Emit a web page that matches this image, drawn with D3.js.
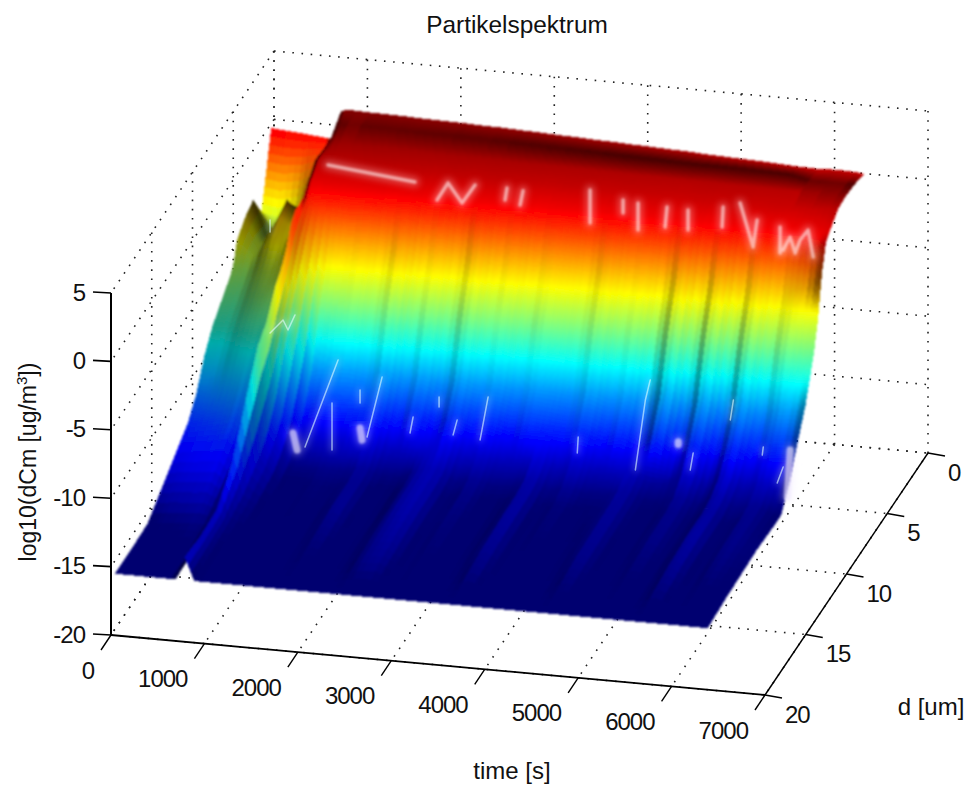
<!DOCTYPE html>
<html>
<head>
<meta charset="utf-8">
<script src="https://cdn.jsdelivr.net/npm/d3@7"></script>
<style>
body { margin: 0; background: #fff; overflow: hidden; }
text { font-family: "Liberation Sans", Arial, sans-serif; fill: #111; }
</style>
</head>
<body>
<svg id="chart" width="967" height="785"></svg>
<script>
const timeTicks = [0, 1000, 2000, 3000, 4000, 5000, 6000, 7000];
const dTicks = [0, 5, 10, 15, 20];
const zTicks = [-20, -15, -10, -5, 0, 5];

const timeValues = [40, 200, 400, 550, 690, 790, 890, 1100, 1300, 1500, 1700, 1900, 2100, 2300, 2500, 2700, 2900, 3100, 3300,
    3500, 3700, 3900, 4100, 4300, 4500, 4700, 4900, 5100, 5300, 5500, 5700, 5900, 6100, 6300, 6388];
const dValues = [0.8, 2, 3, 4, 5, 5.5, 6, 6.5, 7, 7.5, 8, 9, 10, 11, 12, 14, 16, 18, 20];

// log10(dCm), one row per entry of timeValues, one column per entry of dValues
const zValues = [
    [0.1, -5.0, -3.2, -3.6, -4.4, -5.9, -6.4, -6.8, -7.2, -7.6, -8.0, -9.3, -11.2, -12.4, -13.0, -14.2, -15.4, -15.5, -15.5],
    [0.0, -5.2, -6.0, -5.5, -5.6, -6.2, -6.6, -7.0, -7.4, -7.8, -8.2, -9.5, -11.0, -12.2, -12.8, -14.0, -15.2, -15.5, -15.5],
    [-0.1, -4.8, -2.9, -3.4, -4.2, -5.0, -5.6, -6.1, -6.6, -7.1, -7.6, -8.9, -10.6, -11.9, -12.6, -13.9, -15.1, -15.4, -15.5],
    [-0.2, -3.6, -4.0, -4.0, -4.3, -4.8, -5.2, -5.7, -6.2, -6.8, -7.4, -8.7, -10.3, -11.6, -12.4, -13.8, -15.0, -15.3, -15.5],
    [-0.3, -3.0, -3.3, -3.2, -3.4, -4.0, -4.6, -5.2, -6.0, -6.8, -7.6, -10.0, -12.0, -13.2, -13.8, -14.5, -15.1, -15.4, -15.5],
    [1.84, 1.0, 1.0, 1.1, 0.3, -0.3, -0.4, -0.5, -1.0, -2.2, -3.0, -4.0, -5.5, -6.3, -8.0, -11.8, -13.8, -14.0, -13.8],
    [1.95, 1.95, 1.5, 1.1, 0.2, -1.0, -2.0, -3.0, -4.0, -5.0, -6.0, -8.5, -11.0, -12.5, -13.5, -14.5, -15.0, -15.2, -15.5],
    [1.9, 2.0, 1.5, 1.0, 0.3, -1.0, -3.2, -5.0, -6.6, -8.6, -10.6, -12.8, -14.3, -15.0, -15.3, -15.4, -15.4, -15.5, -15.5],
    [1.88, 1.98, 1.5, 1.0, 0.25, -1.1, -3.4, -4.9, -6.4, -8.3, -10.4, -12.4, -14.0, -15.0, -15.3, -15.4, -15.4, -15.5, -15.5],
    [1.85, 1.95, 1.45, 1.0, 0.3, -1.0, -3.2, -4.7, -6.2, -8.2, -10.2, -12.5, -13.9, -14.8, -15.1, -15.2, -15.4, -15.5, -15.5],
    [1.8, 1.92, 1.45, 0.95, 0.2, -1.2, -3.5, -5.0, -6.5, -8.5, -10.5, -12.3, -13.6, -14.9, -15.2, -15.3, -15.4, -15.5, -15.5],
    [1.78, 1.9, 1.4, 0.95, 0.25, -1.0, -3.0, -4.5, -6.0, -8.0, -10.0, -12.0, -13.5, -14.5, -14.6, -14.6, -14.9, -15.2, -15.5],
    [1.75, 1.88, 1.4, 0.9, 0.15, -1.3, -3.6, -5.1, -6.7, -8.7, -10.7, -12.8, -14.2, -15.0, -15.3, -15.3, -15.4, -15.5, -15.5],
    [1.7, 1.85, 1.4, 0.95, 0.2, -1.1, -3.3, -4.8, -6.3, -8.2, -10.2, -12.2, -14.0, -15.0, -15.3, -15.4, -15.4, -15.5, -15.5],
    [1.68, 1.82, 1.35, 0.9, 0.1, -1.4, -3.7, -5.2, -6.8, -8.8, -10.8, -12.9, -13.8, -14.3, -14.4, -14.5, -14.7, -14.9, -15.5],
    [1.62, 1.8, 1.35, 0.95, 0.2, -1.0, -3.1, -4.6, -6.1, -8.1, -10.1, -12.1, -13.4, -14.1, -14.2, -14.3, -14.5, -14.8, -15.5],
    [1.58, 1.76, 1.3, 0.9, 0.1, -1.3, -3.6, -5.1, -6.6, -8.6, -10.6, -12.7, -14.1, -15.0, -15.3, -15.3, -15.4, -15.5, -15.5],
    [1.52, 1.72, 1.3, 0.9, 0.15, -1.1, -3.3, -4.8, -6.4, -8.3, -10.3, -12.4, -13.9, -14.6, -14.8, -15.0, -15.1, -15.3, -15.5],
    [1.48, 1.68, 1.28, 0.85, 0.05, -1.4, -3.7, -5.2, -6.8, -8.7, -10.7, -12.8, -14.2, -15.0, -15.3, -15.4, -15.4, -15.5, -15.5],
    [1.42, 1.64, 1.25, 0.9, 0.15, -1.2, -3.4, -4.9, -6.4, -8.4, -10.4, -12.4, -14.0, -14.9, -15.2, -15.3, -15.3, -15.5, -15.5],
    [1.38, 1.6, 1.25, 0.85, 0.1, -1.3, -3.5, -5.0, -6.5, -8.5, -10.5, -12.6, -13.6, -14.2, -14.3, -14.4, -14.6, -14.9, -15.5],
    [1.32, 1.56, 1.22, 0.8, 0.05, -1.4, -3.7, -5.2, -6.7, -8.7, -10.7, -12.7, -14.2, -15.0, -15.3, -15.4, -15.4, -15.5, -15.5],
    [1.28, 1.52, 1.2, 0.85, 0.15, -1.1, -3.2, -4.7, -6.2, -8.2, -10.2, -12.3, -13.8, -14.6, -15.0, -15.1, -15.3, -15.5, -15.5],
    [1.22, 1.5, 1.18, 0.8, 0.05, -1.3, -3.6, -5.1, -6.7, -8.7, -10.7, -12.8, -14.2, -15.0, -15.3, -15.4, -15.4, -15.5, -15.5],
    [1.18, 1.45, 1.15, 0.8, 0.1, -1.2, -3.4, -4.9, -6.4, -8.4, -10.4, -12.4, -14.1, -14.9, -15.1, -15.2, -15.3, -15.5, -15.5],
    [1.1, 1.42, 1.12, 0.75, 0.0, -1.4, -3.8, -5.4, -7.0, -9.0, -11.0, -13.0, -14.0, -14.4, -14.5, -14.6, -14.7, -15.0, -15.5],
    [1.05, 1.42, 1.15, 0.8, 0.15, -1.0, -3.0, -4.4, -5.9, -7.8, -9.7, -11.8, -14.6, -15.1, -15.2, -15.3, -15.4, -15.4, -15.5],
    [1.0, 1.4, 1.1, 0.75, -0.05, -1.5, -3.9, -5.5, -7.1, -9.1, -11.1, -13.1, -14.5, -15.1, -15.3, -15.3, -15.4, -15.5, -15.5],
    [0.95, 1.38, 1.1, 0.8, 0.1, -1.1, -3.1, -4.5, -6.0, -7.9, -9.9, -12.0, -13.6, -14.5, -14.7, -14.8, -15.0, -15.3, -15.5],
    [0.88, 1.35, 1.08, 0.7, -0.1, -1.6, -4.0, -5.6, -7.2, -9.2, -11.2, -13.2, -14.6, -15.1, -15.3, -15.3, -15.4, -15.5, -15.5],
    [0.82, 1.32, 1.05, 0.75, 0.05, -1.2, -3.3, -4.7, -6.2, -8.1, -10.1, -12.1, -13.5, -14.1, -14.3, -14.3, -14.5, -14.9, -15.5],
    [0.78, 1.0, 1.05, 0.7, -0.05, -1.5, -3.9, -5.4, -7.0, -9.0, -11.0, -13.0, -14.4, -15.0, -15.3, -15.3, -15.4, -15.5, -15.5],
    [0.85, 1.0, 1.05, 0.8, 0.05, -1.2, -3.4, -4.9, -6.4, -8.4, -10.4, -12.5, -14.0, -14.6, -14.7, -14.8, -15.0, -15.3, -15.5],
    [0.8, 1.0, 1.1, 0.9, 0.2, -0.6, -2.9, -4.9, -6.7, -8.5, -10.3, -12.3, -14.2, -15.2, -15.2, -15.1, -15.2, -15.3, -15.5],
    [0.72, 1.0, 1.1, 1.0, 0.3, -0.1, -2.0, -5.0, -7.0, -8.4, -9.8, -11.7, -13.7, -15.2, -15.2, -15.1, -15.2, -15.3, -15.5]
];

// the part before the first rise lies in shadow below the strip at the back, fading out on the floor
const shadowBefore = 790, shadowFromD = 2.5;
const shadowLevel = d3.scaleLinear().domain([-13.5, -8]).range([1, 0.62]).clamp(true);

// specular glints, as [time, z] runs at a fixed d
const glintsHighD = 4.3;
const glintsHigh = [
    [[953, 1.07], [1884, 0.41]],
    [[2120, -0.76], [2238, 0.56], [2388, -0.81], [2527, 0.59]],
    [[2848, -0.31], [2869, 0.58]],
    [[3009, -0.57], [3041, 0.5]],
    [[3758, 1.0], [3758, -1.42]],
    [[4111, 0.49], [4111, -0.46]],
    [[4272, 0.37], [4272, -1.61]],
    [[4582, 0.27], [4561, -1.21]],
    [[4807, 0.19], [4807, -1.27]],
    [[5182, 0.64], [5171, -0.83]],
    [[5364, 1.05], [5503, -2.08], [5546, -0.07]],
    [[5792, -0.43], [5792, -2.33]],
    [[5824, -2.1], [5899, -1.1], [5953, -2.24], [6006, -1.25], [6092, -0.47], [6146, -2.4]]
];
const glintsLowD = 9;
const glintsLow = [
    [[1117, -15.29], [1471, -8.71]],
    [[1406, -15.32], [1406, -11.89]],
    [[1781, -14.14], [1942, -9.66]],
    [[1706, -11.7], [1706, -10.75]],
    [[2241, -13.56], [2274, -12.37]],
    [[2552, -11.46], [2552, -10.73]],
    [[2702, -13.41], [2745, -12.3]],
    [[2991, -13.6], [3077, -10.4]],
    [[4031, -13.9], [4041, -12.73]],
    [[4653, -14.75], [4760, -9.57], [4812, -8.07]],
    [[5240, -14.39], [5272, -13.12]],
    [[5669, -10.46], [5702, -8.98]],
    [[6011, -12.81], [6022, -12.21]],
    [[6171, -14.75], [6235, -13.54]],
    [[743, -7.19], [882, -6.15], [935, -6.85], [1010, -5.7]],
    [[743, 0.2], [743, 1.07]]
];
const glintBlobs = [
    [[989, -14.34], [1032, -15.56]],
    [[1706, -13.53], [1727, -14.4]],
    [[5112, -12.4], [5112, -12.6]],
    [[6310, -12.25], [6278, -15.71]]
];

// axis box as seen on screen, time and d run along the floor
const tx = d3.scaleLinear().domain([0, 7000]).range([0, 654]);
const ty = d3.scaleLinear().domain([0, 7000]).range([0, 60]);
const dx = d3.scaleLinear().domain([20, 0]).range([0, 163]);
const dy = d3.scaleLinear().domain([20, 0]).range([0, -242]);
const zy = d3.scaleLinear().domain([-20, 5]).range([0, -342]);
const x0 = 111, y0 = 635;

const px = (t, d) => x0 + tx(t) + dx(d);
const py = (t, d, z) => y0 + ty(t) + dy(d) + zy(z);

// jet
const cMin = -15.2, cMax = 2;
const jetStops = [0, 0.125, 0.375, 0.625, 0.875, 1];
const jet = d3.scaleLinear()
    .domain(jetStops.map(v => cMin + v * (cMax - cMin)))
    .range(["#000070", "#0000ff", "#00ffff", "#ffff00", "#ff0000", "#7f0000"])
    .clamp(true);

const svg = d3.select("#chart");

const defs = svg.append("defs");
defs.append("filter").attr("id", "soft").append("feGaussianBlur").attr("stdDeviation", 3);
defs.append("filter").attr("id", "thin").append("feGaussianBlur").attr("stdDeviation", 1.2);
defs.append("filter").attr("id", "fine").append("feGaussianBlur").attr("stdDeviation", 0.5);
defs.append("filter").attr("id", "surf").append("feGaussianBlur").attr("stdDeviation", 0.8);

// dotted grid on the three walls
const grid = svg.append("g")
    .attr("fill", "none").attr("stroke", "#222").attr("stroke-width", 1.6)
    .attr("stroke-dasharray", "1.6 7.6");
const gridLine = (a, b) => grid.append("line")
    .attr("x1", px(a[0], a[1])).attr("y1", py(a[0], a[1], a[2]))
    .attr("x2", px(b[0], b[1])).attr("y2", py(b[0], b[1], b[2]));

timeTicks.forEach(t => {
    gridLine([t, 0, -20], [t, 0, 5]);
    gridLine([t, 0, -20], [t, 20, -20]);
});
dTicks.forEach(d => {
    gridLine([0, d, -20], [0, d, 5]);
    gridLine([0, d, -20], [7000, d, -20]);
});
zTicks.forEach(z => {
    gridLine([0, 0, z], [7000, 0, z]);
    gridLine([0, 0, z], [0, 20, z]);
});

// surface: far cells first, each data cell split up so the colour runs smoothly
const cellsT = 3;
const tLast = timeValues.length - 2;
const zCell = (i, j, u, v) => d3.interpolate(
    d3.interpolate(zValues[i][j], zValues[i + 1][j])(u),
    d3.interpolate(zValues[i][j + 1], zValues[i + 1][j + 1])(u))(v);
const slopeT = (i, j, v) => (zCell(i, j, 1, v) - zCell(i, j, 0, v)) / (timeValues[i + 1] - timeValues[i]) * 200;
const darkT = s => s > 0 ? 0.7 * s * s / (s * s + 1.5) : -0.03 * s;
// only the plateau at the top picks up the dark band behind its crest
const slopeD = (i, j) => {
    if (j === 0 || j > 4) return 0;
    const a = (zValues[i][j] - zValues[i][j - 1]) / (dValues[j] - dValues[j - 1]);
    const b = (zValues[i + 1][j] - zValues[i + 1][j - 1]) / (dValues[j] - dValues[j - 1]);
    return Math.min(0.2, Math.max(0, (a + b) / 2));
};

const cells = [];
for (let j = 0; j < dValues.length - 1; j++) {
    const dA = dValues[j], dB = dValues[j + 1];
    const cellsD = j < 13 ? 10 : 4;
    for (let sj = 0; sj < cellsD; sj++) {
        const v0 = sj / cellsD, v1 = (sj + 1) / cellsD, vm = (v0 + v1) / 2;
        for (let i = 0; i <= tLast; i++) {
            const tA = timeValues[i], tB = timeValues[i + 1];
            const here = slopeT(i, j, vm);
            const before = slopeT(Math.max(0, i - 1), j, vm);
            const after = slopeT(Math.min(tLast, i + 1), j, vm);
            const crest = d3.interpolate(slopeD(i, j), slopeD(i, Math.min(j + 1, dValues.length - 2)))(vm);
            for (let si = 0; si < cellsT; si++) {
                const u0 = si / cellsT, u1 = (si + 1) / cellsT, um = (u0 + u1) / 2;
                const corners = [[u0, v0], [u1, v0], [u1, v1], [u0, v1]].map(([u, v]) => {
                    const t = tA + u * (tB - tA), d = dA + v * (dB - dA);
                    return [px(t, d), py(t, d, zCell(i, j, u, v))];
                });
                const w = Math.abs(um - 0.5) * 0.9;
                const s = here * (1 - w) + (um < 0.5 ? before : after) * w;
                const z = zCell(i, j, um, vm);
                let shade = 1 - darkT(s) - 2.8 * crest;
                if (tA + um * (tB - tA) < shadowBefore && dA + vm * (dB - dA) > shadowFromD) shade *= shadowLevel(z);
                shade = Math.max(0.22, Math.min(1.1, shade));
                cells.push({ corners, z, shade });
            }
        }
    }
}

const cellColor = c => {
    const col = d3.rgb(jet(c.z));
    const s = c.shade;
    return d3.rgb(col.r * s, col.g * s, col.b * s).formatHex();
};

const surfLine = d3.line();
svg.append("g")
    .attr("filter", "url(#surf)")
    .selectAll("path")
    .data(cells)
    .join("path")
    .attr("d", c => surfLine(c.corners) + "Z")
    .attr("fill", cellColor)
    .attr("shape-rendering", "crispEdges");

// glints
const glintLine = d => d3.line()
    .x(p => px(p[0], d))
    .y(p => py(p[0], d, p[1]));

const drawGlints = (runs, d, width, glow, opacity, color, core) => {
    svg.append("g").attr("filter", "url(#soft)")
        .selectAll("path").data(runs).join("path")
        .attr("d", glintLine(d)).attr("fill", "none")
        .attr("stroke", color).attr("stroke-opacity", opacity * 0.5).attr("stroke-width", glow)
        .attr("stroke-linecap", "round").attr("stroke-linejoin", "round");
    svg.append("g").attr("filter", core)
        .selectAll("path").data(runs).join("path")
        .attr("d", glintLine(d)).attr("fill", "none")
        .attr("stroke", color).attr("stroke-opacity", opacity).attr("stroke-width", width)
        .attr("stroke-linecap", "round").attr("stroke-linejoin", "round");
};
drawGlints(glintsHigh, glintsHighD, 3.5, 10, 0.6, "#ffe8e8", "url(#thin)");
drawGlints(glintsLow, glintsLowD, 1.5, 4, 0.6, "#e4ffff", "url(#fine)");
drawGlints(glintBlobs, glintsLowD, 7, 12, 0.6, "#eee6ff", "url(#thin)");

// axes
const axes = svg.append("g").attr("fill", "none").attr("stroke", "#000");
const axisLine = (a, b, w) => axes.append("line")
    .attr("stroke-width", w)
    .attr("x1", a[0]).attr("y1", a[1]).attr("x2", b[0]).attr("y2", b[1]);

axisLine([px(0, 20), py(0, 20, -20)], [px(0, 20), py(0, 20, 5)], 2);
axisLine([px(0, 20), py(0, 20, -20)], [px(7000, 20), py(7000, 20, -20)], 1.8);
axisLine([px(7000, 20), py(7000, 20, -20)], [px(7000, 0), py(7000, 0, -20)], 1.4);

const tickLabel = (x, y, anchor, s) => svg.append("text")
    .attr("x", x).attr("y", y).attr("dy", "0.36em")
    .attr("text-anchor", anchor).attr("font-size", 24).attr("letter-spacing", -1).text(s);

zTicks.forEach(z => {
    const x = px(0, 20), y = py(0, 20, z);
    axisLine([x, y], [x - 18, y - 1], 1.6);
    tickLabel(x - 26, y - 1, "end", z);
});
timeTicks.forEach(t => {
    const x = px(t, 20), y = py(t, 20, -20);
    axisLine([x, y], [x - 10, y + 15], 1.4);
    tickLabel(x - 17, y + 35, "end", t);
});
dTicks.forEach(d => {
    const x = px(7000, d), y = py(7000, d, -20);
    axisLine([x, y], [x + 17, y + 3], 1.4);
    tickLabel(x + 20, y + 19, "start", d);
});

svg.append("text").attr("x", 517).attr("y", 33)
    .attr("text-anchor", "middle").attr("font-size", 24.4).text("Partikelspektrum");
svg.append("text").attr("x", 931).attr("y", 715)
    .attr("text-anchor", "middle").attr("font-size", 24).text("d [um]");
svg.append("text").attr("x", 512).attr("y", 779)
    .attr("text-anchor", "middle").attr("font-size", 24).text("time [s]");

const yLabel = svg.append("text").attr("transform", "translate(36,462) rotate(-90)")
    .attr("text-anchor", "middle").attr("font-size", 23);
yLabel.append("tspan").text("log10(dCm [ug/m");
yLabel.append("tspan").attr("dy", -9).attr("font-size", 15).text("3");
yLabel.append("tspan").attr("dy", 9).text("])");
</script>
</body>
</html>
